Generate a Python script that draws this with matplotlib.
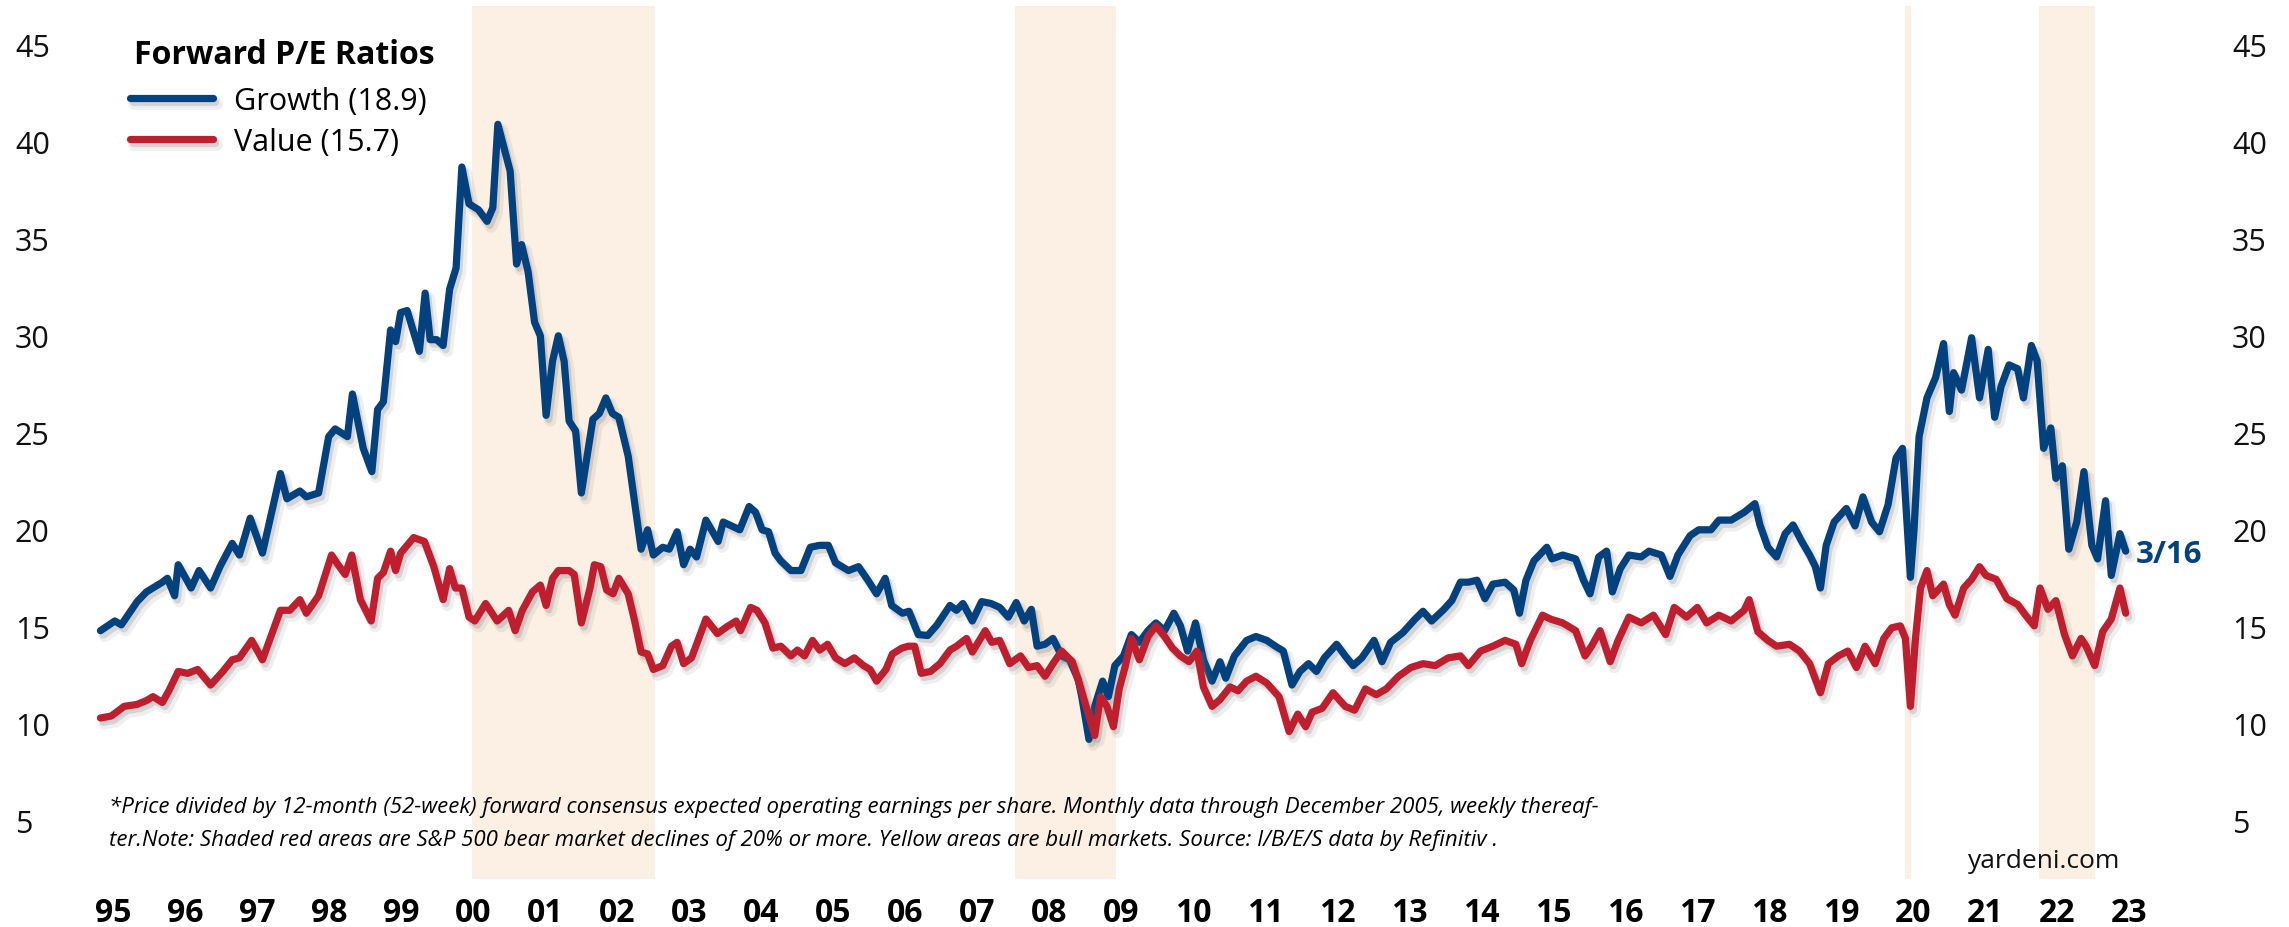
import matplotlib
matplotlib.use("Agg")
import matplotlib.pyplot as plt
import matplotlib.patheffects as pe

plt.rcParams['font.family'] = ['Open Sans', 'DejaVu Sans']

# ---- data (decimal years) ----
growth_t = [1995.07, 1995.27, 1995.36, 1995.58, 1995.71, 1995.93, 1996.00, 1996.10, 1996.15, 1996.33,
            1996.44, 1996.60, 1996.73, 1996.90, 1997.00, 1997.15, 1997.32, 1997.57, 1997.66, 1997.84,
            1997.93, 1998.10, 1998.24, 1998.33, 1998.50, 1998.57, 1998.72, 1998.84, 1998.92, 1999.00,
            1999.10, 1999.17, 1999.24, 1999.33, 1999.50, 1999.58, 1999.65, 1999.74, 1999.83, 1999.92,
            2000.01, 2000.09, 2000.19, 2000.32, 2000.44, 2000.52, 2000.59, 2000.76, 2000.85, 2000.92,
            2001.01, 2001.10, 2001.18, 2001.26, 2001.35, 2001.43, 2001.51, 2001.58, 2001.67, 2001.75,
            2001.91, 2002.00, 2002.09, 2002.18, 2002.27, 2002.40, 2002.49, 2002.58, 2002.67, 2002.75,
            2002.88, 2002.97, 2003.08, 2003.17, 2003.26, 2003.35, 2003.48, 2003.65, 2003.72, 2003.95,
            2004.08, 2004.17, 2004.26, 2004.35, 2004.44, 2004.52, 2004.66, 2004.80, 2004.93, 2005.06,
            2005.18, 2005.28, 2005.46, 2005.60, 2005.73, 2005.85, 2005.97, 2006.06, 2006.21, 2006.30,
            2006.43, 2006.56, 2006.69, 2006.87, 2006.96, 2007.05, 2007.18, 2007.31, 2007.44, 2007.56,
            2007.68, 2007.79, 2007.90, 2008.00, 2008.08, 2008.19, 2008.30, 2008.42, 2008.53, 2008.65,
            2008.70, 2008.80, 2008.88, 2008.99, 2009.07, 2009.16, 2009.28, 2009.39, 2009.50, 2009.62,
            2009.73, 2009.85, 2009.98, 2010.07, 2010.17, 2010.28, 2010.39, 2010.51, 2010.62, 2010.70,
            2010.82, 2010.99, 2011.12, 2011.27, 2011.39, 2011.50, 2011.62, 2011.73, 2011.85, 2011.96,
            2012.07, 2012.24, 2012.36, 2012.47, 2012.59, 2012.76, 2012.87, 2012.99, 2013.16, 2013.33,
            2013.44, 2013.56, 2013.73, 2013.84, 2013.96, 2014.07, 2014.19, 2014.30, 2014.41, 2014.58,
            2014.70, 2014.78, 2014.87, 2014.98, 2015.16, 2015.23, 2015.38, 2015.56, 2015.67, 2015.76,
            2015.88, 2015.99, 2016.07, 2016.18, 2016.30, 2016.47, 2016.58, 2016.75, 2016.87, 2016.98,
            2017.15, 2017.27, 2017.44, 2017.55, 2017.72, 2017.90, 2018.05, 2018.12, 2018.23, 2018.35,
            2018.47, 2018.58, 2018.70, 2018.81, 2018.89, 2018.96, 2019.04, 2019.15, 2019.32, 2019.44,
            2019.55, 2019.67, 2019.78, 2019.90, 2020.01, 2020.10, 2020.14, 2020.21, 2020.26, 2020.33,
            2020.44, 2020.56, 2020.67, 2020.75, 2020.81, 2020.92, 2021.06, 2021.17, 2021.29, 2021.38,
            2021.47, 2021.58, 2021.70, 2021.78, 2021.89, 2021.97, 2022.06, 2022.16, 2022.23, 2022.32,
            2022.41, 2022.52, 2022.62, 2022.73, 2022.81, 2022.92, 2023.00, 2023.12, 2023.20]
growth_v = [14.8, 15.3, 15.1, 16.3, 16.8, 17.3, 17.5, 16.6, 18.2, 17.0,
            17.9, 17.0, 18.1, 19.3, 18.7, 20.6, 18.8, 22.9, 21.6, 22.0,
            21.7, 21.9, 24.8, 25.2, 24.8, 27.0, 24.2, 23.0, 26.2, 26.6,
            30.3, 29.7, 31.2, 31.3, 29.2, 32.2, 29.8, 29.8, 29.5, 32.4,
            33.5, 38.7, 36.8, 36.5, 35.9, 36.6, 40.9, 38.5, 33.7, 34.7,
            33.3, 30.7, 30.0, 25.9, 28.7, 30.0, 28.7, 25.6, 25.1, 21.9,
            25.7, 26.0, 26.8, 26.0, 25.8, 23.8, 21.4, 19.0, 20.0, 18.7,
            19.1, 19.0, 19.9, 18.2, 19.0, 18.6, 20.5, 19.4, 20.4, 20.0,
            21.2, 20.9, 20.0, 19.9, 18.8, 18.4, 17.9, 17.9, 19.1, 19.2,
            19.2, 18.3, 17.9, 18.1, 17.4, 16.7, 17.5, 16.1, 15.7, 15.8,
            14.6, 14.55, 15.1, 16.1, 15.85, 16.2, 15.3, 16.3, 16.2, 16.0,
            15.5, 16.25, 15.3, 15.9, 14.0, 14.1, 14.4, 13.5, 13.3, 12.3,
            11.4, 9.2, 10.9, 12.2, 11.4, 13.0, 13.5, 14.6, 14.2, 14.8,
            15.2, 14.8, 15.7, 15.05, 13.75, 15.2, 13.3, 12.2, 13.2, 12.35,
            13.5, 14.3, 14.5, 14.3, 14.0, 13.75, 12.0, 12.7, 13.1, 12.7,
            13.4, 14.1, 13.5, 13.0, 13.4, 14.3, 13.2, 14.2, 14.7, 15.4,
            15.8, 15.3, 15.9, 16.35, 17.3, 17.3, 17.4, 16.45, 17.2, 17.3,
            16.9, 15.7, 17.4, 18.4, 19.1, 18.5, 18.7, 18.5, 17.4, 16.7,
            18.6, 18.9, 16.8, 18.0, 18.7, 18.6, 18.9, 18.7, 17.6, 18.7,
            19.7, 20.0, 20.0, 20.5, 20.5, 20.9, 21.35, 20.25, 19.1, 18.6,
            19.8, 20.25, 19.4, 18.7, 18.1, 17.0, 19.2, 20.4, 21.1, 20.2,
            21.7, 20.4, 19.9, 21.3, 23.7, 24.2, 21.7, 17.55, 20.0, 24.8,
            26.8, 27.85, 29.6, 26.1, 28.1, 27.2, 29.9, 26.8, 29.3, 25.8,
            27.4, 28.5, 28.3, 26.8, 29.5, 28.7, 24.2, 25.25, 22.65, 23.3,
            19.0, 20.4, 23.0, 19.2, 18.5, 21.5, 17.65, 19.8, 18.9]

value_t = [1995.07, 1995.22, 1995.40, 1995.58, 1995.71, 1995.80, 1995.93, 1996.02, 1996.15, 1996.28,
           1996.42, 1996.60, 1996.77, 1996.90, 1997.00, 1997.17, 1997.32, 1997.57, 1997.70, 1997.84,
           1997.93, 1998.10, 1998.28, 1998.37, 1998.47, 1998.56, 1998.68, 1998.83, 1998.92, 1999.00,
           1999.10, 1999.17, 1999.24, 1999.42, 1999.57, 1999.70, 1999.83, 1999.92, 2000.00, 2000.09,
           2000.19, 2000.27, 2000.42, 2000.58, 2000.67, 2000.74, 2000.83, 2000.93, 2001.07, 2001.18,
           2001.26, 2001.35, 2001.43, 2001.58, 2001.65, 2001.75, 2001.87, 2001.93, 2002.02, 2002.10,
           2002.19, 2002.27, 2002.40, 2002.49, 2002.58, 2002.67, 2002.75, 2002.88, 2003.00, 2003.08,
           2003.17, 2003.28, 2003.48, 2003.64, 2003.77, 2003.90, 2003.96, 2004.10, 2004.19, 2004.30,
           2004.41, 2004.52, 2004.66, 2004.75, 2004.85, 2004.96, 2005.06, 2005.17, 2005.28, 2005.41,
           2005.54, 2005.67, 2005.76, 2005.85, 2005.98, 2006.07, 2006.20, 2006.29, 2006.38, 2006.47,
           2006.60, 2006.73, 2006.87, 2006.96, 2007.10, 2007.18, 2007.36, 2007.45, 2007.56, 2007.70,
           2007.85, 2007.96, 2008.08, 2008.19, 2008.30, 2008.42, 2008.57, 2008.68, 2008.76, 2008.88,
           2008.96, 2009.05, 2009.14, 2009.22, 2009.30, 2009.39, 2009.50, 2009.62, 2009.73, 2009.85,
           2009.96, 2010.07, 2010.19, 2010.30, 2010.39, 2010.51, 2010.62, 2010.76, 2010.87, 2010.99,
           2011.12, 2011.27, 2011.44, 2011.58, 2011.70, 2011.81, 2011.90, 2012.04, 2012.19, 2012.36,
           2012.49, 2012.64, 2012.79, 2012.93, 2013.10, 2013.27, 2013.44, 2013.61, 2013.79, 2013.96,
           2014.07, 2014.24, 2014.41, 2014.58, 2014.73, 2014.81, 2014.93, 2015.10, 2015.21, 2015.38,
           2015.56, 2015.69, 2015.78, 2015.90, 2016.04, 2016.15, 2016.30, 2016.47, 2016.64, 2016.81,
           2016.93, 2017.10, 2017.25, 2017.38, 2017.55, 2017.72, 2017.90, 2017.97, 2018.09, 2018.23,
           2018.35, 2018.53, 2018.67, 2018.81, 2018.96, 2019.07, 2019.21, 2019.34, 2019.46, 2019.58,
           2019.72, 2019.84, 2019.95, 2020.07, 2020.14, 2020.21, 2020.28, 2020.35, 2020.44, 2020.52,
           2020.67, 2020.75, 2020.83, 2020.95, 2021.06, 2021.17, 2021.26, 2021.40, 2021.55, 2021.70,
           2021.81, 2021.93, 2022.01, 2022.12, 2022.23, 2022.35, 2022.46, 2022.58, 2022.65, 2022.77,
           2022.88, 2023.00, 2023.12, 2023.20]
value_v = [10.3, 10.4, 10.9, 11.0, 11.2, 11.4, 11.1, 11.7, 12.7, 12.6,
           12.8, 12.0, 12.7, 13.3, 13.4, 14.3, 13.3, 15.85, 15.85, 16.4,
           15.7, 16.6, 18.7, 18.2, 17.7, 18.7, 16.4, 15.3, 17.5, 17.8,
           18.9, 17.9, 18.8, 19.6, 19.4, 18.1, 16.4, 18.0, 17.0, 17.0,
           15.5, 15.3, 16.2, 15.3, 15.6, 15.85, 14.8, 15.85, 16.8, 17.15,
           16.1, 17.5, 17.9, 17.9, 17.7, 15.2, 17.0, 18.2, 18.1, 16.9,
           16.7, 17.5, 16.7, 15.3, 13.7, 13.6, 12.8, 13.0, 14.0, 14.2,
           13.1, 13.4, 15.4, 14.65, 15.0, 15.3, 14.8, 16.0, 15.85, 15.2,
           13.9, 14.0, 13.5, 13.8, 13.5, 14.3, 13.8, 14.1, 13.4, 13.1,
           13.4, 13.0, 12.8, 12.2, 12.8, 13.6, 13.9, 14.0, 14.0, 12.6,
           12.7, 13.1, 13.8, 14.0, 14.4, 13.7, 14.8, 14.2, 14.3, 13.1,
           13.5, 12.9, 13.0, 12.45, 13.1, 13.75, 13.2, 11.9, 10.9, 9.4,
           11.4, 10.9, 9.85, 11.8, 12.9, 14.4, 13.3, 14.5, 15.05, 14.5,
           13.9, 13.5, 13.2, 13.75, 11.9, 10.9, 11.25, 11.9, 11.7, 12.2,
           12.45, 12.1, 11.4, 9.6, 10.5, 9.85, 10.6, 10.8, 11.6, 10.9,
           10.7, 11.8, 11.5, 11.8, 12.45, 12.9, 13.1, 13.0, 13.4, 13.5,
           13.0, 13.75, 14.0, 14.3, 14.1, 13.1, 14.3, 15.6, 15.4, 15.2,
           14.8, 13.5, 14.0, 14.8, 13.2, 14.3, 15.5, 15.2, 15.6, 14.6,
           16.0, 15.5, 16.0, 15.2, 15.6, 15.3, 15.85, 16.4, 14.75, 14.3,
           14.0, 14.1, 13.75, 13.1, 11.6, 13.1, 13.5, 13.75, 12.9, 14.0,
           13.1, 14.4, 14.95, 15.05, 14.4, 10.9, 14.4, 17.0, 17.9, 16.6,
           17.2, 16.15, 15.6, 17.0, 17.45, 18.1, 17.65, 17.45, 16.45, 16.15,
           15.6, 15.05, 17.0, 15.9, 16.35, 14.6, 13.5, 14.4, 14.0, 13.0,
           14.75, 15.4, 17.0, 15.7]

# S&P 500 bear markets (shaded)
bear_start = [2000.23, 2007.77, 2020.135, 2022.00]
bear_end = [2002.77, 2009.18, 2020.22, 2022.78]

years = list(range(1995, 2024))
year_labels = [f"{y % 100:02d}" for y in years]
y_ticks = [5, 10, 15, 20, 25, 30, 35, 40, 45]

GROWTH_COLOR = '#00417e'
VALUE_COLOR = '#be1e2d'
SHADE_COLOR = '#fcefe3'

W, H = 2289, 928
fig = plt.figure(figsize=(W / 100, H / 100), dpi=100)
ax = fig.add_axes([45 / W, 48 / H, (2202 - 45) / W, 873 / H])
ax.set_xlim(1994.30, 2024.26)
ax.set_ylim(2, 47)

for s, e in zip(bear_start, bear_end):
    ax.axvspan(s, e, color=SHADE_COLOR, lw=0, zorder=0)

shadow = [pe.SimpleLineShadow(offset=(3, -4), shadow_color='#808080', alpha=0.12, linewidth=8.5),
          pe.SimpleLineShadow(offset=(2, -3), shadow_color='#808080', alpha=0.25),
          pe.Normal()]
ax.plot(growth_t, growth_v, color=GROWTH_COLOR, lw=5.2, solid_capstyle='round',
        solid_joinstyle='round', label='Growth (18.9)', path_effects=shadow, zorder=3)
ax.plot(value_t, value_v, color=VALUE_COLOR, lw=5.2, solid_capstyle='round',
        solid_joinstyle='round', label='Value (15.7)', path_effects=shadow, zorder=4)

ax.annotate('3/16', xy=(growth_t[-1], growth_v[-1]), xytext=(7, -2), textcoords='offset points',
            ha='left', va='center', fontsize=22.5, fontweight='bold', color=GROWTH_COLOR)

for sp in ax.spines.values():
    sp.set_visible(False)

ax.set_yticks(y_ticks)
ax.set_yticklabels([str(v) for v in y_ticks])
ax.tick_params(axis='y', length=0, labelsize=22, pad=21.6, labelleft=True, labelright=True,
               labelcolor='#111111')
for lab in ax.yaxis.get_majorticklabels():
    lab.set_horizontalalignment('left')

ax.set_xticks([y + 0.25 for y in years])
ax.set_xticklabels(year_labels, fontweight='bold')
ax.tick_params(axis='x', length=0, labelsize=23, pad=12)

# legend: title drawn as text, entries as a legend below it
fig.text(134 / W, 1 - 56 / H, 'Forward P/E Ratios', fontsize=23, fontweight='bold',
         ha='left', va='center')
leg = ax.legend(loc='upper left', bbox_to_anchor=(130 / W, 1 - 87 / H), bbox_transform=fig.transFigure,
                frameon=False, fontsize=22, handlelength=2.7, handletextpad=0.7,
                labelspacing=0.35, borderpad=0, borderaxespad=0)

note1 = ("*Price divided by 12-month (52-week) forward consensus expected operating earnings per share. "
         "Monthly data through December 2005, weekly thereaf-")
note2 = ("ter.Note: Shaded red areas are S&P 500 bear market declines of 20% or more. "
         "Yellow areas are bull markets. Source: I/B/E/S data by Refinitiv .")
fig.text(109 / W, 1 - 807 / H, note1, fontsize=16, style='italic', va='center', ha='left')
fig.text(109 / W, 1 - 841 / H, note2, fontsize=16, style='italic', va='center', ha='left')
fig.text(2120 / W, 1 - 868 / H, 'yardeni.com', fontsize=19, ha='right', va='baseline', color='#111111')

fig.savefig('out.png', dpi=100)
